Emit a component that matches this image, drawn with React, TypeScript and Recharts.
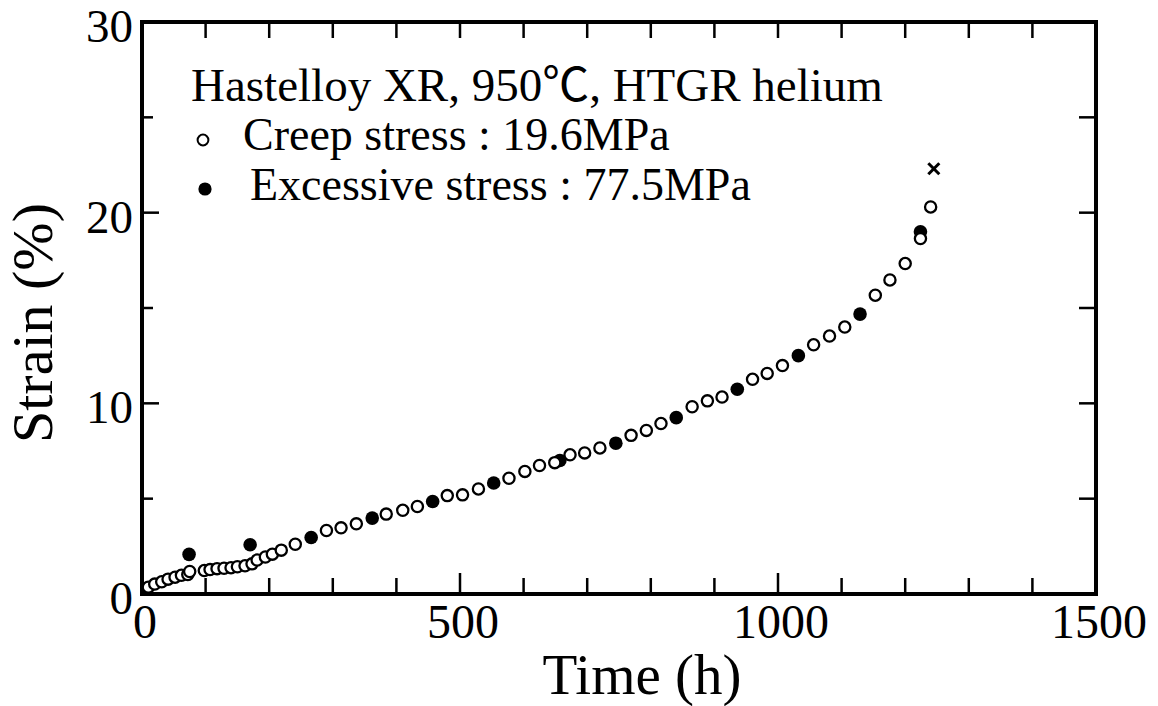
import React from 'react';
import { ScatterChart, Scatter, XAxis, YAxis, Legend } from 'recharts';

const SERIF = "'Liberation Serif', 'Times New Roman', 'Noto Sans CJK JP', serif";

// Creep test at 19.6 MPa (open circles)
const creepTimeH = [
  10, 20, 31, 41, 52, 62, 72, 75, 98, 107, 118, 129, 140, 150, 162, 173, 181, 194, 205, 219,
  241, 290, 313, 337, 384, 410, 433, 480, 504, 529, 577, 602, 625, 649, 673, 696, 720, 769,
  793, 816, 865, 889, 912, 960, 983, 1007, 1056, 1081, 1105, 1153, 1176, 1200, 1224, 1240,
];
const creepStrainPct = [
  0.36, 0.52, 0.64, 0.78, 0.88, 0.98, 1.02, 1.18, 1.23, 1.28, 1.33, 1.35, 1.38, 1.43, 1.48,
  1.58, 1.78, 1.94, 2.09, 2.3, 2.61, 3.33, 3.47, 3.68, 4.19, 4.39, 4.59, 5.16, 5.2, 5.51,
  6.07, 6.43, 6.74, 6.89, 7.3, 7.4, 7.66, 8.32, 8.58, 8.94, 9.82, 10.13, 10.33, 11.26,
  11.57, 11.98, 13.07, 13.53, 14.0, 15.67, 16.47, 17.33, 18.64, 20.3,
];

// Strain measured after each excessive stress load of 77.5 MPa (filled circles)
const excessTimeH = [74, 170, 266, 362, 457, 553, 657, 745, 840, 936, 1032, 1129, 1224];
const excessStrainPct = [2.08, 2.58, 2.96, 3.98, 4.85, 5.82, 7.0, 7.91, 9.25, 10.74, 12.5, 14.68, 19.0];

// Rupture
const ruptureTimeH = [1245];
const ruptureStrainPct = [22.3];

const xTicks = [0, 100, 200, 300, 400, 500, 600, 700, 800, 900, 1000, 1100, 1200, 1300, 1400, 1500];
const xLabelTicks = [0, 500, 1000, 1500];
const yTicks = [0, 5, 10, 15, 20, 25, 30];
const yLabelTicks = [0, 10, 20, 30];

const toPoints = (t: number[], s: number[]) => t.map((time, i) => ({ time, strain: s[i] }));
const creepData = toPoints(creepTimeH, creepStrainPct);
const excessData = toPoints(excessTimeH, excessStrainPct);
const ruptureData = toPoints(ruptureTimeH, ruptureStrainPct);

const frameLine = { stroke: '#000', strokeWidth: 4, strokeLinecap: 'square' as const };

const BottomTick = (p: any) => {
  const v = p.payload.value;
  const major = xLabelTicks.includes(v);
  return (
    <g>
      <line x1={p.x} y1={p.y} x2={p.x} y2={p.y - (major ? 21 : 16)} stroke="#000" strokeWidth={2.5} />
      {major && (
        <text x={p.x + 3} y={p.y + 44} textAnchor="middle" fontSize={48} fontFamily={SERIF} fill="#000">
          {v}
        </text>
      )}
    </g>
  );
};

const TopTick = (p: any) => (
  <line x1={p.x} y1={p.y} x2={p.x} y2={p.y + 16} stroke="#000" strokeWidth={2.5} />
);

const LeftTick = (p: any) => {
  const v = p.payload.value;
  const major = yLabelTicks.includes(v);
  return (
    <g>
      <line x1={p.x} y1={p.y} x2={p.x + (major ? 17 : 11)} y2={p.y} stroke="#000" strokeWidth={2.5} />
      {major && (
        <text x={p.x - 9} y={p.y + 20} textAnchor="end" fontSize={47} fontFamily={SERIF} fill="#000">
          {v}
        </text>
      )}
    </g>
  );
};

const RightTick = (p: any) => (
  <line x1={p.x} y1={p.y} x2={p.x - 17} y2={p.y} stroke="#000" strokeWidth={2.5} />
);

const OpenCircle = (p: any) => (
  <circle cx={p.cx} cy={p.cy} r={5.6} fill="#fff" stroke="#000" strokeWidth={2.3} />
);
const FilledCircle = (p: any) => <circle cx={p.cx} cy={p.cy} r={6.8} fill="#000" />;
const Cross = (p: any) => (
  <g stroke="#000" strokeWidth={3}>
    <line x1={p.cx - 5.5} y1={p.cy - 5.5} x2={p.cx + 5.5} y2={p.cy + 5.5} />
    <line x1={p.cx - 5.5} y1={p.cy + 5.5} x2={p.cx + 5.5} y2={p.cy - 5.5} />
  </g>
);

const XTitle = (p: any) => {
  const vb = p.viewBox;
  return (
    <text x={vb.x + vb.width / 2 + 23} y={vb.y + 100} textAnchor="middle" fontSize={57} fontFamily={SERIF} fill="#000">
      Time (h)
    </text>
  );
};

const YTitle = (p: any) => {
  const vb = p.viewBox;
  const cx = 52;
  const cy = vb.y + vb.height / 2 + 15;
  return (
    <text x={cx} y={cy} transform={`rotate(-90, ${cx}, ${cy})`} textAnchor="middle" fontSize={58} fontFamily={SERIF} fill="#000">
      Strain (%)
    </text>
  );
};

const LegendBox = () => (
  <div style={{ position: 'relative', width: 720, height: 160, fontFamily: SERIF, fontSize: 46, lineHeight: '50px', color: '#000' }}>
    <div style={{ position: 'absolute', left: 1, top: 0, whiteSpace: 'nowrap', fontSize: 47 }}>Hastelloy XR, 950℃, HTGR helium</div>
    <svg style={{ position: 'absolute', left: 5, top: 72 }} width={16} height={16}>
      <circle cx={8} cy={8} r={5.4} fill="#fff" stroke="#000" strokeWidth={2} />
    </svg>
    <div style={{ position: 'absolute', left: 53, top: 50, whiteSpace: 'nowrap' }}>Creep stress : 19.6MPa</div>
    <svg style={{ position: 'absolute', left: 7, top: 121 }} width={16} height={16}>
      <circle cx={8} cy={8} r={6.6} fill="#000" />
    </svg>
    <div style={{ position: 'absolute', left: 60, top: 100, whiteSpace: 'nowrap' }}>Excessive stress : 77.5MPa</div>
  </div>
);

export default function App() {
  return (
    <div style={{ position: 'absolute', left: 0, top: 0, width: 1158, height: 706, background: '#fff', overflow: 'hidden' }}>
      <ScatterChart width={1158} height={706} margin={{ top: 21, right: 61, bottom: 12, left: 0 }}>
        <XAxis
          xAxisId="b" dataKey="time" type="number" domain={[0, 1500]} allowDataOverflow
          ticks={xTicks} interval={0} orientation="bottom" height={100}
          tickSize={0} tickMargin={0} tickLine={false} axisLine={frameLine} tick={BottomTick}
          label={XTitle}
        />
        <XAxis
          xAxisId="t" dataKey="time" type="number" domain={[0, 1500]} allowDataOverflow
          ticks={xTicks} interval={0} orientation="top" height={1}
          tickSize={0} tickMargin={0} tickLine={false} axisLine={frameLine} tick={TopTick}
        />
        <YAxis
          yAxisId="l" dataKey="strain" type="number" domain={[0, 30]} allowDataOverflow
          ticks={yTicks} interval={0} orientation="left" width={142}
          tickSize={0} tickMargin={0} tickLine={false} axisLine={frameLine} tick={LeftTick}
          label={YTitle}
        />
        <YAxis
          yAxisId="r" dataKey="strain" type="number" domain={[0, 30]} allowDataOverflow
          ticks={yTicks} interval={0} orientation="right" width={1}
          tickSize={0} tickMargin={0} tickLine={false} axisLine={frameLine} tick={RightTick}
        />
        <Legend
          layout="vertical" verticalAlign="middle" align="center"
          content={LegendBox}
          wrapperStyle={{ left: 190, top: 60, width: 720, height: 160 }}
        />
        <Scatter name="Excessive stress : 77.5MPa" data={excessData} xAxisId="b" yAxisId="l" shape={FilledCircle} isAnimationActive={false} />
        <Scatter name="Creep stress : 19.6MPa" data={creepData} xAxisId="b" yAxisId="l" shape={OpenCircle} isAnimationActive={false} />
        <Scatter name="Rupture" data={ruptureData} xAxisId="t" yAxisId="r" shape={Cross} isAnimationActive={false} />
      </ScatterChart>
    </div>
  );
}
